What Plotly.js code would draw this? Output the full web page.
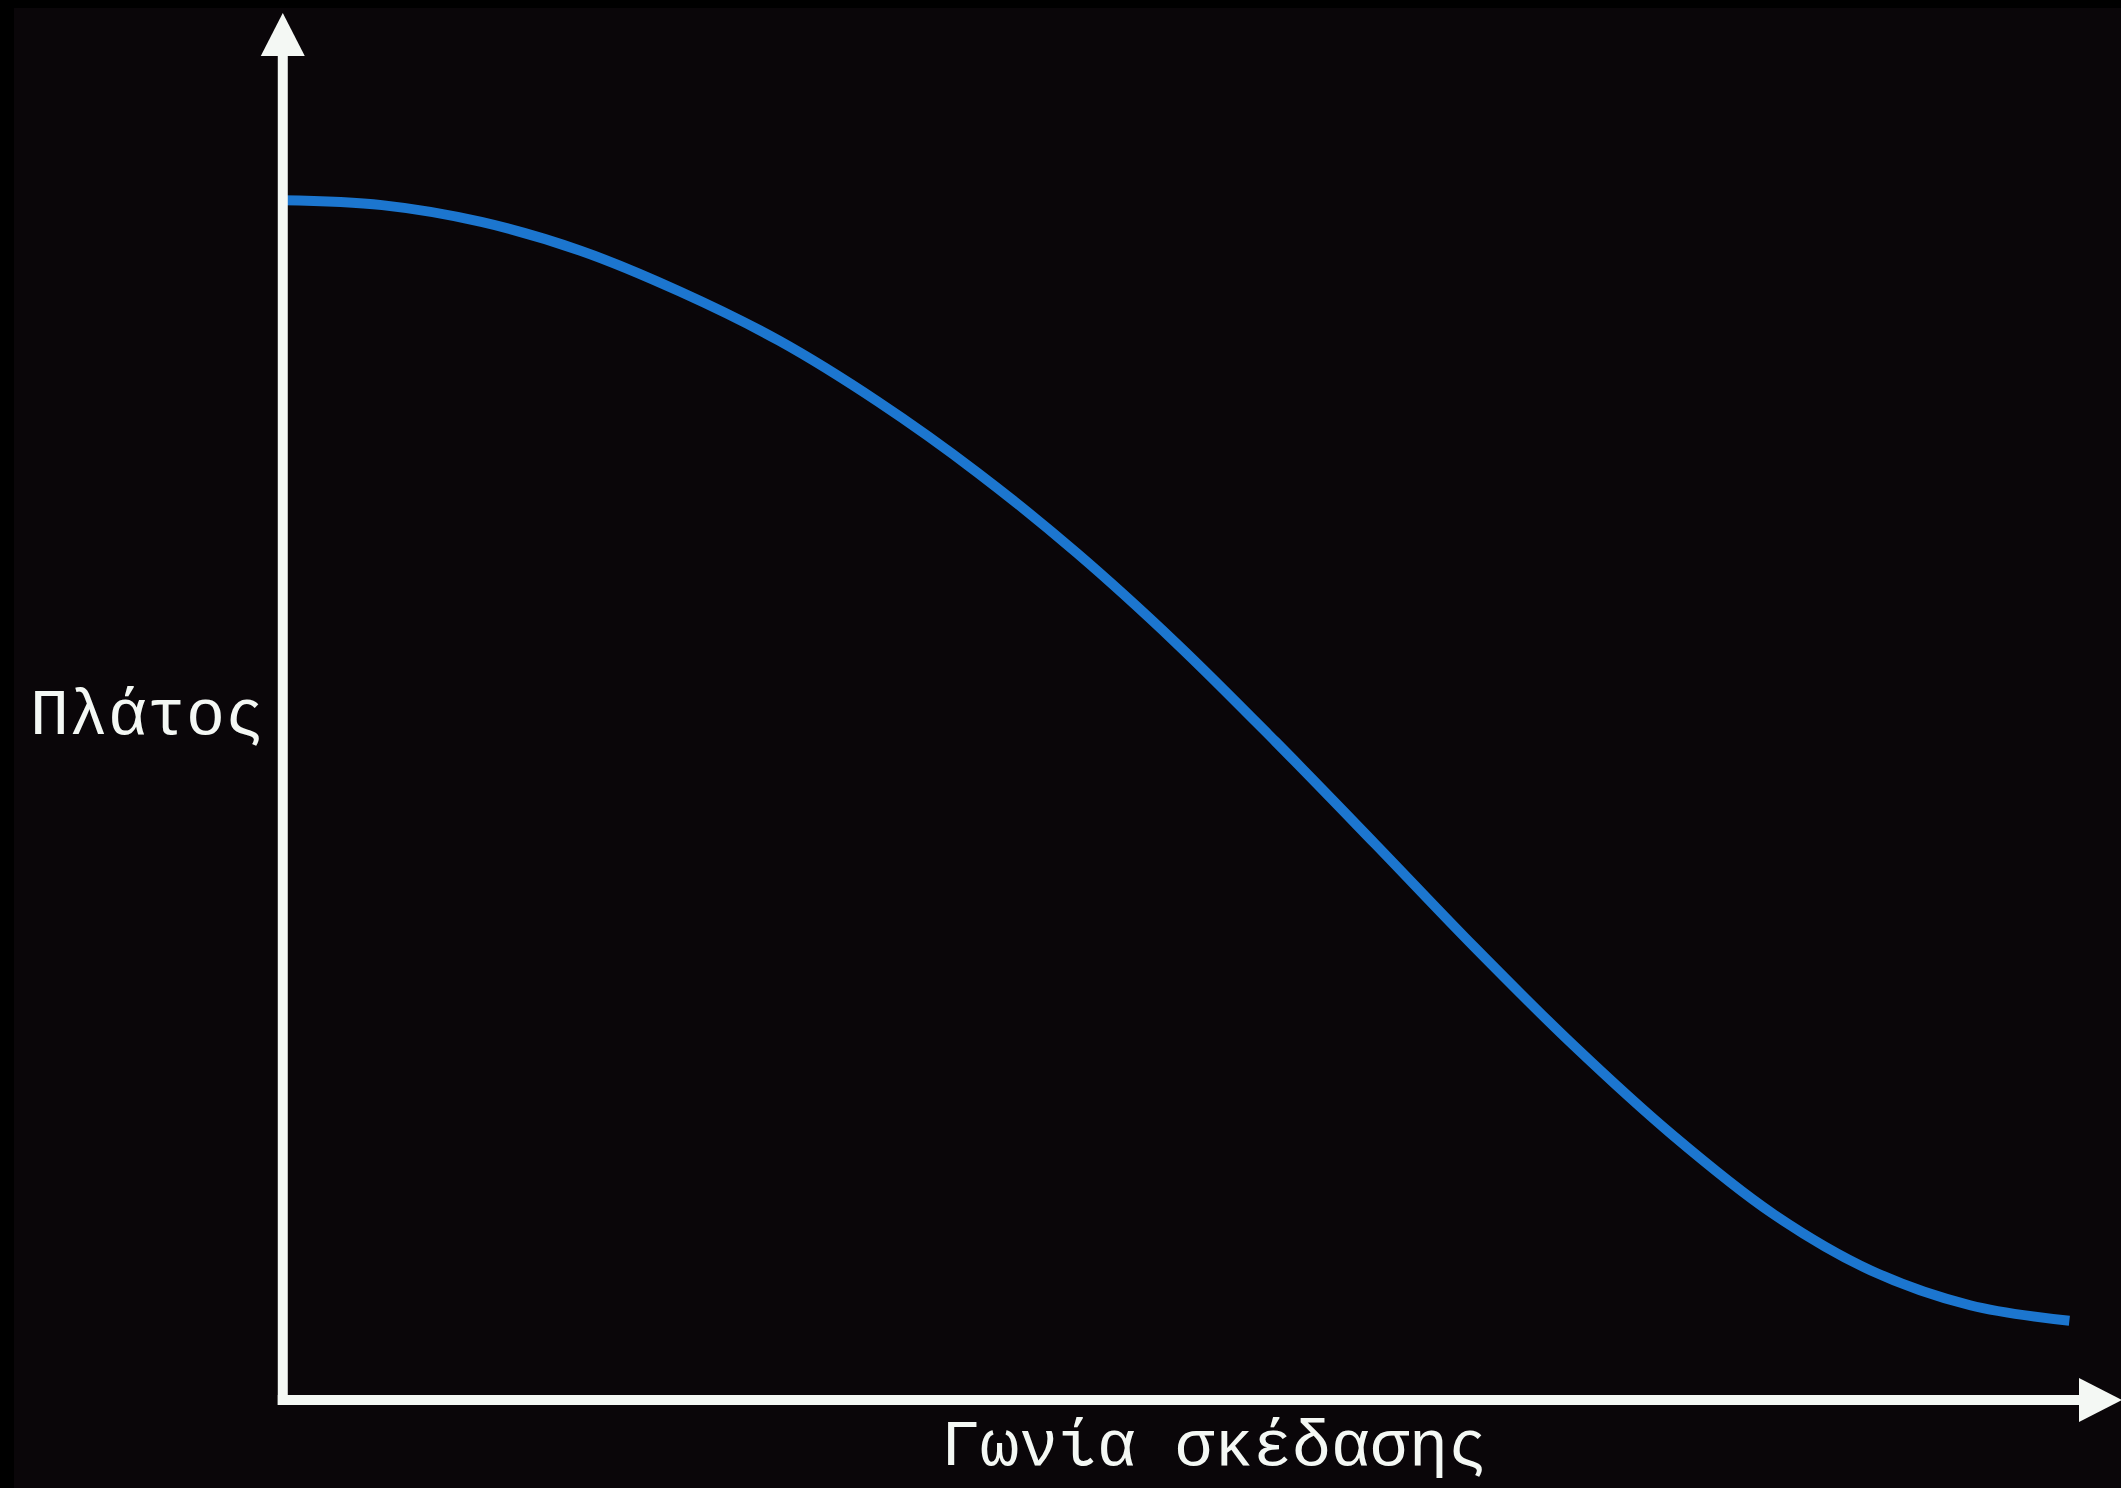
<!DOCTYPE html>
<html>
<head>
<meta charset="utf-8">
<script src="https://cdn.plot.ly/plotly-3.0.1.min.js"></script>
<style>
html,body{margin:0;padding:0;background:#000;}
#chart{width:2121px;height:1488px;}
</style>
</head>
<body>
<div id="chart"></div>
<script>
// Scattering angle (degrees) and amplitude (normalised)
const angle = [0, 10, 20, 30, 40, 50, 60, 70, 80, 90, 100, 110, 120, 130, 140, 150, 160, 170, 180];
const amplitude = [1.000, 0.996, 0.982, 0.958, 0.924, 0.883, 0.832, 0.773, 0.706, 0.631,
                   0.549, 0.464, 0.378, 0.296, 0.221, 0.156, 0.108, 0.079, 0.066];
const xTitle = 'Γωνία σκέδασης';
const yTitle = 'Πλάτος';

const W = 2121, H = 1488;
const margin = {l: 253, r: 0, t: 0, b: 58};
const plotW = W - margin.l - margin.r, plotH = H - margin.t - margin.b;
const xRange = [-3, 185.2];
const yRange = [-0.025, 1.167];
const pxX = plotW / (xRange[1] - xRange[0]);
const pxY = plotH / (yRange[1] - yRange[0]);
const paperX = px => (px - margin.l) / plotW;
const paperY = py => 1 - (py - margin.t) / plotH;

const axisColor = '#f4f8f4';
const bgColor = '#0a0609';
const axisW = 10;
const arrowLen = 43, arrowHalf = 22;
const yTop = yRange[1] - 13 / pxY;
const yBase = yTop - arrowLen / pxY;
const xTip = xRange[1] + 1 / pxX;
const xBase = xTip - arrowLen / pxX;
const dxHalf = arrowHalf / pxX, dyHalf = arrowHalf / pxY;
const halfW = (axisW / 2) / pxX;

const shapes = [
  {type: 'rect', xref: 'paper', yref: 'paper', x0: paperX(14), x1: paperX(W + 5), y0: paperY(H + 5), y1: paperY(8),
   fillcolor: bgColor, line: {width: 0}, layer: 'below'},
  {type: 'line', x0: 0, x1: 0, y0: -(axisW/2)/pxY, y1: yBase + 1/pxY, xref: 'x', yref: 'y',
   line: {color: axisColor, width: axisW}, layer: 'above'},
  {type: 'line', x0: -halfW, x1: xBase + 1/pxX, y0: 0, y1: 0, xref: 'x', yref: 'y',
   line: {color: axisColor, width: axisW}, layer: 'above'},
  {type: 'path', xref: 'x', yref: 'y', fillcolor: axisColor, line: {width: 0},
   path: `M ${-dxHalf} ${yBase} L ${dxHalf} ${yBase} L 0 ${yTop} Z`, layer: 'above'},
  {type: 'path', xref: 'x', yref: 'y', fillcolor: axisColor, line: {width: 0},
   path: `M ${xBase} ${-dyHalf} L ${xBase} ${dyHalf} L ${xTip} 0 Z`, layer: 'above'}
];

const font = {family: '"Liberation Mono", "Courier New", monospace', size: 65, color: axisColor};

const data = [{
  x: angle, y: amplitude, type: 'scatter', mode: 'lines',
  line: {color: '#1c76cf', width: 10, shape: 'spline', smoothing: 1.0},
  hoverinfo: 'skip'
}];

const layout = {
  width: W, height: H, margin: margin,
  paper_bgcolor: '#000000', plot_bgcolor: 'rgba(0,0,0,0)',
  showlegend: false,
  xaxis: {range: xRange, visible: false, fixedrange: true},
  yaxis: {range: yRange, visible: false, fixedrange: true},
  shapes: shapes,
  annotations: [
    {text: yTitle, xref: 'paper', yref: 'paper', x: paperX(266), y: paperY(717),
     xanchor: 'right', yanchor: 'middle', showarrow: false, font: font},
    {text: xTitle, xref: 'paper', yref: 'paper', x: paperX(1214), y: paperY(1487),
     xanchor: 'center', yanchor: 'bottom', showarrow: false, font: font}
  ]
};

Plotly.newPlot('chart', data, layout, {displayModeBar: false, staticPlot: true});
</script>
</body>
</html>
